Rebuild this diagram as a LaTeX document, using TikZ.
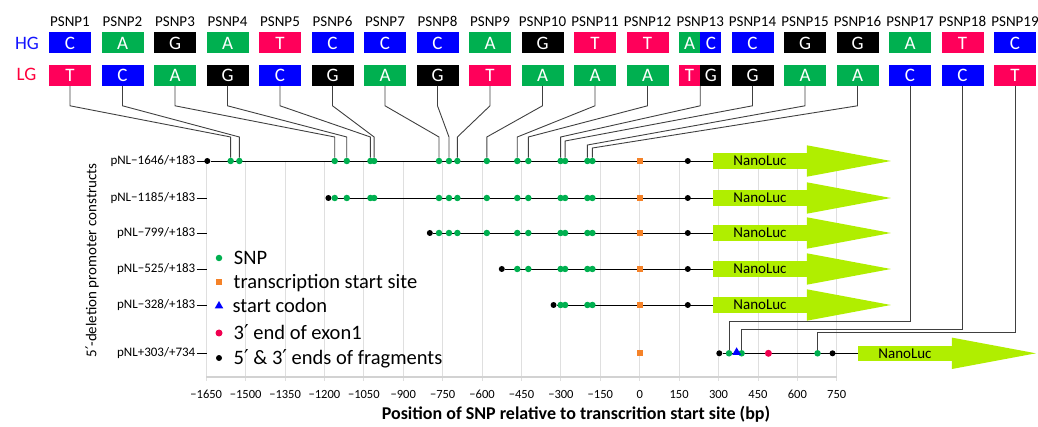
\documentclass[tikz,border=0pt]{standalone}
\usepackage{fontspec}
\setmainfont{Carlito}
\newfontfamily\symfont{DejaVu Sans}
\usepackage{tikz}
\usetikzlibrary{positioning,calc,shapes.geometric}

\definecolor{snpA}{RGB}{0,176,80}
\definecolor{snpC}{RGB}{0,0,255}
\definecolor{snpG}{RGB}{0,0,0}
\definecolor{snpT}{RGB}{255,0,90}
\definecolor{hgblue}{RGB}{20,20,255}
\definecolor{lgred}{RGB}{255,0,60}
\definecolor{tssorange}{RGB}{245,130,40}
\definecolor{exonred}{RGB}{240,0,80}
\definecolor{nanogreen}{RGB}{176,238,0}

\newcommand{\fsz}[1]{\fontsize{#1}{#1}\selectfont}
\newcommand{\prm}{{\symfont ′}}
% position in bp -> x
\newcommand{\bp}[1]{639.7+0.2627*(#1)}
\newcommand{\snplist}{1/-1557,2/-1524,3/-1161,4/-1115,5/-1025,6/-1011,7/-764,8/-726,9/-694,10/-582,11/-466,12/-424,13/-301,14/-284,15/-199,16/-180}

\begin{document}
\begin{tikzpicture}[
x=1pt, y=-1pt,
nt/.style={
inner sep=0pt,
minimum width=42pt,
minimum height=21pt,
fill=snp#1,
text=white,
font=\fsz{19}
},
psnp/.style={font=\fsz{15}},
group/.style={font=\fsz{19}},
snp/.style={circle, fill=snpA, inner sep=0pt, minimum size=6.5pt},
fragend/.style={circle, fill=black, inner sep=0pt, minimum size=6pt},
tss/.style={rectangle, fill=tssorange, inner sep=0pt, minimum size=6pt},
codon/.style={regular polygon, regular polygon sides=3, fill=blue, inner sep=0pt, minimum size=10pt},
exon/.style={circle, fill=exonred, inner sep=0pt, minimum size=7pt},
nano/.style={
fill=nanogreen,
inner sep=0pt,
minimum width=93.4pt,
minimum height=15.6pt,
text height=10pt,
text depth=0pt,
font=\fsz{15}
},
link/.style={draw=black!75, line width=0.9pt},
rowline/.style={draw=black, line width=0.9pt},
gridline/.style={draw=gray!25, line width=0.8pt},
rowlab/.style={anchor=east, inner sep=1pt, font=\fsz{13}},
ticklab/.style={font=\fsz{12.5}},
keytext/.style={font=\fsz{20.5}, text height=13pt, text depth=0pt}
]
\useasboundingbox (0,0) rectangle (1038,427);

% Grid and axis
\foreach \v in {-1650,-1500,...,750} {
\draw[gridline] ({\bp{\v}},161) -- ({\bp{\v}},380.7);
\node[ticklab] (t\v) at ({\bp{\v}},394) {\ifnum\v<0 −\number-\v\else\v\fi};
}
\draw[draw=gray!35, line width=1.6pt] ({\bp{-1650}},376.7) -- ({\bp{750}},376.7);

% Genotype boxes
\node[group, text=hgblue] (hg) at (27,43) {HG};
\node[group, text=lgred] (lg) at (26.5,74.5) {LG};
\foreach \i/\h/\l in {1/C/T,2/A/C,3/G/A,4/A/G,5/T/C,6/C/G,7/C/A,8/C/G,9/A/T,10/G/A,11/T/A,12/T/A,14/C/G,15/G/A,16/G/A,17/A/C,18/T/C,19/C/T} {
\node[nt=\h] (hg\i) at ({70+52.5*(\i-1)},43) {\h};
\node[nt=\l, below=10.7pt of hg\i] (lg\i) {\l};
\node[psnp, above=2pt of hg\i] (p\i) {PSNP\i};
}
\node[nt=A, minimum width=21pt] (hg13) at (689.5,43) {A};
\node[nt=C, minimum width=21pt, right=0pt of hg13] (hg13b) {C};
\node[nt=T, minimum width=21pt, below=10.7pt of hg13] (lg13) {T};
\node[nt=G, minimum width=21pt, right=0pt of lg13] (lg13b) {G};
\node[psnp, above=2pt of hg13.north east] (p13) {PSNP13};

% Constructs
\foreach \k/\y/\s/\f in {1/161/-1646/1,2/198/-1185/3,3/233/-799/7,4/269/-525/11,5/305/-328/13} {
\node[fragend] (r\k-a) at ({\bp{\s}},\y) {};
\node[nano] (nl\k) at (760,\y) {NanoLuc};
\fill[nanogreen] ($(nl\k.east)+(0,-15.7)$) -- ($(nl\k.east)+(84,0)$) -- ($(nl\k.east)+(0,15.7)$) -- cycle;
\draw[rowline] (r\k-a) -- (nl\k);
\foreach \i/\b in \snplist {
\ifnum\i<\f\relax\else\node[snp] (r\k-\i) at ({\bp{\b}},\y) {};\fi
}
\node[tss] (r\k-t) at ({\bp{0}},\y) {};
\node[fragend] (r\k-b) at ({\bp{183}},\y) {};
\pgfmathtruncatemacro\n{-\s}
\node[rowlab] (lab\k) at (196.5,\y) {pNL−\n/+183};
\draw[rowline] (lab\k.east) -- ++(10,0);
}

\node[fragend] (r6-a) at ({\bp{303}},353.3) {};
\node[nano] (nl6) at (905,353.3) {NanoLuc};
\fill[nanogreen] ($(nl6.east)+(0,-15.7)$) -- ($(nl6.east)+(84,0)$) -- ($(nl6.east)+(0,15.7)$) -- cycle;
\draw[rowline] (r6-a) -- (nl6);
\node[snp] (r6-17) at ({\bp{340}},353.3) {};
\node[snp] (r6-18) at ({\bp{388}},353.3) {};
\node[codon] (r6-c) at ({\bp{369}},352.3) {};
\node[exon] (r6-e) at ({\bp{490}},353.3) {};
\node[snp] (r6-19) at ({\bp{677}},353.3) {};
\node[fragend] (r6-b) at ({\bp{734}},353.3) {};
\node[tss] (r6-t) at ({\bp{0}},353.3) {};
\node[rowlab] (lab6) at (196.5,353.3) {pNL+303/+734};
\draw[rowline] (lab6.east) -- ++(10,0);

% SNP links
\foreach \i/\d in {1/24,2/24,3/24,4/24,5/24,6/24,7/24,8/24,9/24,10/24,11/24,12/24,14/20,15/16,16/13}
\draw[link] (lg\i.south) -- ++(0,20) -- ($(r1-\i)+(0,-\d)$) -- (r1-\i);
\draw[link] (lg13.south east) -- ++(0,20) -- ($(r1-13)+(0,-24)$) -- (r1-13);
\draw[link] (lg17.south) |- ($(r6-17)+(0,-31.6)$) -- (r6-17);
\draw[link] (lg18.south) |- ($(r6-18)+(0,-24.3)$) -- (r6-18);
\draw[link] (lg19.south) |- ($(r6-19)+(0,-20.6)$) -- (r6-19);

% Legend
\node[snp] (key1) at (219,258) {};
\node[tss] (key2) at (219,282) {};
\node[codon] (key3) at (219,306) {};
\node[exon] (key4) at (219,333) {};
\node[fragend] (key5) at (219,358) {};
\node[keytext, right=8pt of key1] (txt1) {SNP};
\node[keytext, right=8pt of key2] (txt2) {transcription start site};
\node[keytext, right=7pt of key3] (txt3) {start codon};
\node[keytext, right=7.5pt of key4] (txt4) {3\prm{} end of exon1};
\node[keytext, right=8pt of key5] (txt5) {5\prm{} \& 3\prm{} ends of fragments};

% Axis titles
\node[rotate=90, font=\fsz{15}] (ylab) at (92,260.5) {5\prm-deletion promoter constructs};
\node[font=\bfseries\fsz{18}] (xlab) at (576,414) {Position of SNP relative to transcrition start site (bp)};

\end{tikzpicture}
\end{document}
